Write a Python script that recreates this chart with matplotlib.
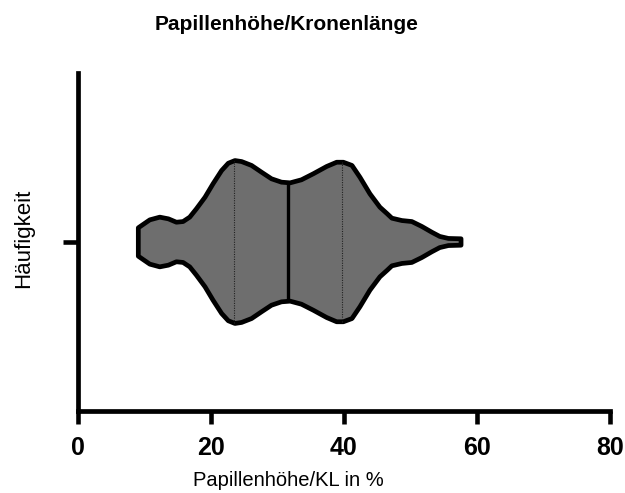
import numpy as np
import matplotlib
matplotlib.use("Agg")
import matplotlib.pyplot as plt

# Violin profile: position (%) and half-width (density, axis units)
profile_x = [9.07, 9.8, 10.8, 12.3, 13.6, 14.8, 15.8, 16.8, 17.8, 19.1, 20.3, 21.6,
             22.6, 23.6, 24.6, 26.1, 27.6, 29.1, 30.6, 31.9, 33.6, 35.4, 37.4, 38.9,
             39.9, 41.2, 42.4, 43.9, 45.4, 46.5, 47.2, 48.7, 50.2, 51.7, 53.2, 54.4,
             55.7, 57.6]
profile_hw = [0.084, 0.104, 0.131, 0.147, 0.137, 0.117, 0.121, 0.147, 0.196, 0.265,
              0.344, 0.423, 0.466, 0.482, 0.476, 0.453, 0.413, 0.374, 0.354, 0.350,
              0.368, 0.404, 0.447, 0.472, 0.472, 0.453, 0.383, 0.285, 0.206, 0.167,
              0.141, 0.127, 0.121, 0.092, 0.058, 0.033, 0.021, 0.019]
median = 31.6
quartiles = [23.5, 39.7]

xticks = [0, 20, 40, 60, 80]
title = "Papillenhöhe/Kronenlänge"
xlabel = "Papillenhöhe/KL in %"
ylabel = "Häufigkeit"

plt.rcParams['font.family'] = ['Liberation Sans', 'DejaVu Sans']

fig = plt.figure(figsize=(6.25, 4.93), dpi=100)
ax = fig.add_axes([78/625, 82/493, 532/625, 338/493])

center = 1.0
px = np.array(profile_x)
hw = np.array(profile_hw)
poly_x = np.concatenate([px, px[::-1]])
poly_y = np.concatenate([center + hw, (center - hw)[::-1]])
ax.fill(poly_x, poly_y, facecolor='#6e6e6e', edgecolor='black', linewidth=3.4,
        joinstyle='round', zorder=2)

m_hw = np.interp(median, px, hw)
ax.plot([median, median], [center - m_hw, center + m_hw], color='black', lw=2.4,
        solid_capstyle='butt', zorder=3)
for q in quartiles:
    q_hw = np.interp(q, px, hw)
    ax.plot([q, q], [center - q_hw, center + q_hw], color='#222222', lw=0.8,
            linestyle=(0, (1, 1.2)), zorder=3)

ax.set_xlim(0, 80)
ax.set_ylim(0, 2)
ax.set_xticks(xticks)
ax.set_xticklabels([str(t) for t in xticks], fontsize=18, fontweight='bold')
ax.set_yticks([center])
ax.set_yticklabels([''])
ax.tick_params(axis='x', length=9.4, width=3.3, pad=8.5, color='black')
ax.tick_params(axis='y', length=10.8, width=3.3, color='black')

for side in ['top', 'right']:
    ax.spines[side].set_visible(False)
for side in ['left', 'bottom']:
    ax.spines[side].set_linewidth(3.4)
    ax.spines[side].set_capstyle('projecting')

fig.text(287/625, 1 - 25/493, title, ha='center', va='center', fontsize=15,
         fontweight='bold')
fig.text(288/625, 1 - 480/493, xlabel, ha='center', va='center', fontsize=14.5)
fig.text(24/625, 1 - 238/493, ylabel, ha='center', va='center', fontsize=16,
         rotation=90)

fig.savefig('out.png', dpi=100)
